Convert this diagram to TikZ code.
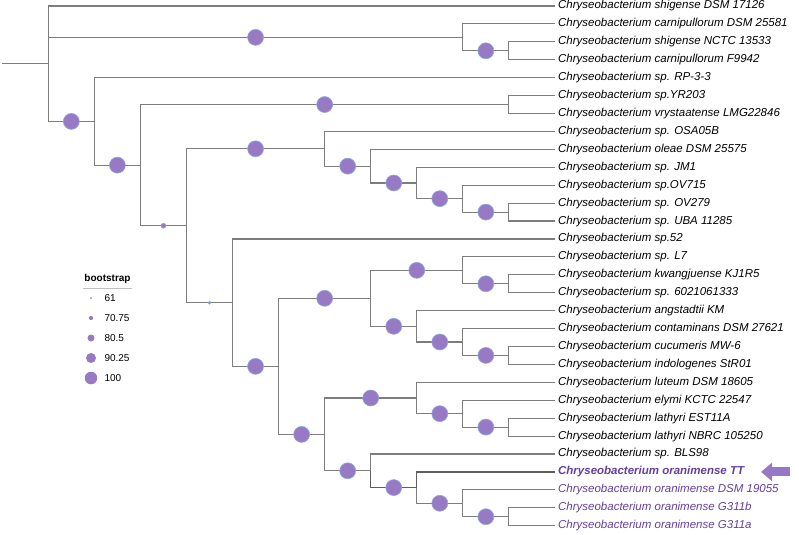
\documentclass[tikz,border=0pt]{standalone}
\usepackage{fontspec}
\setmainfont{Liberation Sans}
\usetikzlibrary{arrows.meta}
\definecolor{branchgray}{RGB}{125,125,125}
\definecolor{bootfill}{RGB}{152,122,196}
\definecolor{bootedge}{RGB}{140,170,230}
\definecolor{oraniviolet}{RGB}{100,62,160}
\definecolor{pointerviolet}{RGB}{150,120,198}
\newcommand{\tipcol}{24}

\tikzset{
  branch/.style={draw=branchgray, line width=1.1pt},
  hibranch/.style={draw=branchgray!75!black, line width=1.35pt},
  taxon/.style={anchor=west, inner xsep=3pt, inner ysep=0pt, font=\fontsize{11.5}{13}\selectfont\itshape},
  orani/.style={taxon, text=oraniviolet},
  boot/.style={circle, fill=bootfill, draw=bootedge, line width=0.6pt, inner sep=0pt, minimum size=#1},
  boot/.default=16pt,
  legdot/.style={circle, fill=bootfill, inner sep=0pt},
  legtext/.style={anchor=west, inner sep=0pt, font=\fontsize{10}{12}\selectfont},
  pointer/.style={draw=pointerviolet, line width=9pt, -{Triangle[length=11pt,width=18pt]}},
}

\begin{document}
\begin{tikzpicture}[x=23.03pt, y=-17.92pt]
        \useasboundingbox (-0.0973,-0.3348) rectangle (34.597,29.520);

        % inner nodes of the tree (column, row)
        \coordinate (nRoot) at (2,3.2202);
        \coordinate (nCarni) at (20,1.75);
        \coordinate (nShig) at (22,2.5);
        \coordinate (nMain) at (4,6.4404);
        \coordinate (nSub) at (6,8.8809);
        \coordinate (nYR) at (22,5.5);
        \coordinate (nCore) at (8,12.2617);
        \coordinate (nOleae) at (14,7.96875);
        \coordinate (nJM) at (16,8.9375);
        \coordinate (nOVa) at (18,9.875);
        \coordinate (nOVb) at (20,10.75);
        \coordinate (nUBA) at (22,11.5);
        \coordinate (nFtt) at (10,16.5547);
        \coordinate (nBig) at (12,20.1094);
        \coordinate (nIndo) at (16,16.3125);
        \coordinate (nLseven) at (20,14.75);
        \coordinate (nKwang) at (22,15.5);
        \coordinate (nAngst) at (18,17.875);
        \coordinate (nConta) at (20,18.75);
        \coordinate (nCucu) at (22,19.5);
        \coordinate (nOran) at (14,23.9063);
        \coordinate (nLut) at (18,21.875);
        \coordinate (nElym) at (20,22.75);
        \coordinate (nLath) at (22,23.5);
        \coordinate (nBLS) at (16,25.9375);
        \coordinate (nTT) at (18,26.875);
        \coordinate (nDSM) at (20,27.75);
        \coordinate (nGtre) at (22,28.5);
        \coordinate (rootStub) at (0,3.2202);

        % root stub
        \draw[branch] (rootStub) -- (nRoot);

        % inner branches with bootstrap dots
        \draw[branch] (nRoot) |- (nCarni) node[pos=.75,boot]{};
        \draw[branch] (nCarni) |- (nShig) node[pos=.75,boot]{};
        \draw[branch] (nRoot) |- (nMain) node[pos=.75,boot]{};
        \draw[branch] (nMain) |- (nSub) node[pos=.75,boot]{};
        \draw[branch] (nSub) |- (nYR) node[pos=.75,boot]{};
        \draw[branch] (nSub) |- (nCore) node[pos=.75,boot=5pt]{};
        \draw[branch] (nCore) |- (nOleae) node[pos=.75,boot]{};
        \draw[branch] (nOleae) |- (nJM) node[pos=.75,boot]{};
        \draw[branch] (nJM) |- (nOVa) node[pos=.75,boot]{};
        \draw[branch] (nOVa) |- (nOVb) node[pos=.75,boot]{};
        \draw[branch] (nOVb) |- (nUBA) node[pos=.75,boot]{};
        \draw[branch] (nCore) |- (nFtt) node[pos=.75,boot=3pt]{};
        \draw[branch] (nFtt) |- (nBig) node[pos=.75,boot]{};
        \draw[branch] (nBig) |- (nIndo) node[pos=.75,boot]{};
        \draw[branch] (nIndo) |- (nLseven) node[pos=.75,boot]{};
        \draw[branch] (nLseven) |- (nKwang) node[pos=.75,boot]{};
        \draw[branch] (nIndo) |- (nAngst) node[pos=.75,boot]{};
        \draw[branch] (nAngst) |- (nConta) node[pos=.75,boot]{};
        \draw[branch] (nConta) |- (nCucu) node[pos=.75,boot]{};
        \draw[branch] (nBig) |- (nOran) node[pos=.75,boot]{};
        \draw[branch] (nOran) |- (nLut) node[pos=.75,boot]{};
        \draw[branch] (nLut) |- (nElym) node[pos=.75,boot]{};
        \draw[branch] (nElym) |- (nLath) node[pos=.75,boot]{};
        \draw[branch] (nOran) |- (nBLS) node[pos=.75,boot]{};
        \draw[hibranch] (nBLS) |- (nTT) node[pos=.75,boot]{};
        \draw[branch] (nTT) |- (nDSM) node[pos=.75,boot]{};
        \draw[branch] (nDSM) |- (nGtre) node[pos=.75,boot]{};

        % tips
        \foreach \up/\row/\txt in {nRoot/0/shigense DSM 17126, nCarni/1/carnipullorum DSM 25581,
            nShig/2/shigense NCTC 13533, nShig/3/carnipullorum F9942, nMain/4/sp. RP-3-3,
            nYR/5/sp.YR203, nYR/6/vrystaatense LMG22846, nOleae/7/sp. OSA05B,
            nJM/8/oleae DSM 25575, nOVa/9/sp. JM1, nOVb/10/sp.OV715, nUBA/11/sp. OV279,
            nUBA/12/sp. UBA 11285, nFtt/13/sp.52, nLseven/14/sp. L7,
            nKwang/15/kwangjuense KJ1R5, nKwang/16/sp. 6021061333, nAngst/17/angstadtii KM,
            nConta/18/contaminans DSM 27621, nCucu/19/cucumeris MW-6,
            nCucu/20/indologenes StR01, nLut/21/luteum DSM 18605, nElym/22/elymi KCTC 22547,
            nLath/23/lathyri EST11A, nLath/24/lathyri NBRC 105250, nBLS/25/sp. BLS98}
        {
            \node[taxon] (tip\row) at (\tipcol,\row) {Chryseobacterium \txt};
            \draw[branch] (\up) |- (tip\row.west);
        }

        % the new strain and its relatives
        \node[orani, font=\fontsize{11.5}{13}\selectfont\bfseries\itshape] (tip26) at (\tipcol,26) {Chryseobacterium oranimense TT};
        \draw[hibranch] (nTT) |- (tip26.west);
        \node[orani] (tip27) at (\tipcol,27) {Chryseobacterium oranimense DSM 19055};
        \draw[branch] (nDSM) |- (tip27.west);
        \node[orani] (tip28) at (\tipcol,28) {Chryseobacterium oranimense G311b};
        \draw[branch] (nGtre) |- (tip28.west);
        \node[orani] (tip29) at (\tipcol,29) {Chryseobacterium oranimense G311a};
        \draw[branch] (nGtre) |- (tip29.west);

        % arrow pointing at TT
        \coordinate (ptrTail) at (34.2,26);
        \coordinate (ptrTip) at (32.95,26);
        \draw[pointer] (ptrTail) -- (ptrTip);

        % legend
        \node[font=\fontsize{10}{12}\selectfont\bfseries, inner sep=0pt] (bsTitle) at (4.571,15.234) {bootstrap};
        \coordinate (bsRuleL) at (3.507,15.737);
        \coordinate (bsRuleR) at (5.634,15.737);
        \draw[black!25, line width=1pt] (bsRuleL) -- (bsRuleR);
        \foreach \val/\dia [count=\i from 0] in {61/2,70.75/4.2,80.5/7,90.25/10,100/12.5}
        {
            \node[legdot, minimum size=\dia pt] (legDot\i) at (3.854,{16.295+1.116*\i}) {};
            \node[legtext] (legVal\i) at (4.432,{16.295+1.116*\i}) {\val};
        }
    \end{tikzpicture}
\end{document}
